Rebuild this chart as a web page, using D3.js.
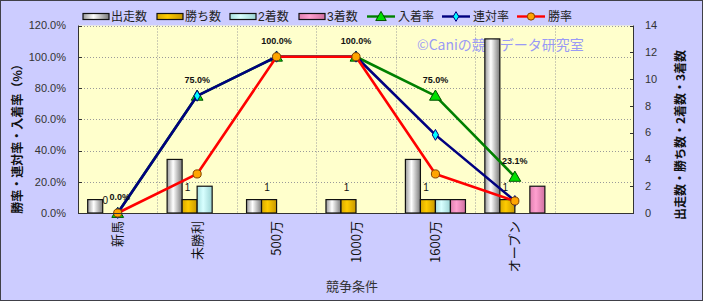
<!DOCTYPE html>
<html><head><meta charset="utf-8">
<script src="https://cdn.jsdelivr.net/npm/d3@7"></script>
<style>body{margin:0;background:#fff}svg{display:block}text{font-family:"Liberation Sans","Noto Sans CJK JP",sans-serif}</style>
</head><body>
<svg id="c" width="703" height="301"></svg>
<script>
// ---- data ----
const categories = ["新馬", "未勝利", "500万", "1000万", "1600万", "オープン"];
const starts  = [1, 4, 1, 1, 4, 13];   // 出走数
const wins    = [0, 1, 1, 1, 1, 1];    // 勝ち数
const seconds = [0, 2, 0, 0, 1, 0];    // 2着数
const thirds  = [0, 0, 0, 0, 1, 2];    // 3着数
const placeRate = [0, 75, 100, 100, 75, 23.1]; // 入着率
const quinellaRate = [0, 75, 100, 100, 50, 7.7]; // 連対率
const winRate = [0, 25, 100, 100, 25, 7.7];   // 勝率
const leftTicks = [0, 20, 40, 60, 80, 100, 120];
const rightTicks = [0, 2, 4, 6, 8, 10, 12, 14];

const barSeries = [
  {key: "出走数", values: starts, c: ["#9a9a9a", "#ffffff", "#7a7a7a"]},
  {key: "勝ち数", values: wins, c: ["#d8a800", "#ffcc00", "#c89800"]},
  {key: "2着数", values: seconds, c: ["#a8e0e0", "#d8ffff", "#9cd4d4"]},
  {key: "3着数", values: thirds, c: ["#e080b0", "#ffa0d0", "#d070a0"]}
];
const lineSeries = [
  {key: "入着率", values: placeRate, color: "#008000", marker: "tri", fill: "#00e000", stroke: "#005000"},
  {key: "連対率", values: quinellaRate, color: "#000080", marker: "dia", fill: "#00ffff", stroke: "#000080"},
  {key: "勝率", values: winRate, color: "#ff0000", marker: "cir", fill: "#ffa500", stroke: "#804000"}
];

const svg = d3.select("#c");
const W = 703, H = 301;
const L = 78, R = 634, T = 25.5, B = 213;

svg.append("rect").attr("x", 0.5).attr("y", 0.5).attr("width", W - 1).attr("height", H - 1)
  .attr("fill", "#ccccff").attr("stroke", "#404048");

const defs = svg.append("defs");
barSeries.forEach((s, i) => {
  const g = defs.append("linearGradient").attr("id", "g" + i).attr("x1", 0).attr("x2", 1).attr("y1", 0).attr("y2", 0);
  g.append("stop").attr("offset", "0%").attr("stop-color", s.c[0]);
  g.append("stop").attr("offset", "40%").attr("stop-color", s.c[1]);
  g.append("stop").attr("offset", "100%").attr("stop-color", s.c[2]);
});

const slots = categories.concat([""]);
const x = d3.scaleBand().domain(d3.range(slots.length)).range([L, R]).padding(0);
const bw = x.bandwidth();
const xi = d3.scaleBand().domain(barSeries.map(s => s.key)).range([bw * 0.122, bw * 0.878]).padding(0);
const yL = d3.scaleLinear().domain([0, 120]).range([B, T]);
const yR = d3.scaleLinear().domain([0, 14]).range([B, T]);

// plot background
svg.append("rect").attr("x", L).attr("y", T).attr("width", R - L).attr("height", B - T).attr("fill", "#ffffcc");

// gridlines
svg.append("g").selectAll("line").data(leftTicks.filter(d => d > 0)).join("line")
  .attr("x1", L).attr("x2", R).attr("y1", d => Math.round(yL(d)) + 0.5).attr("y2", d => Math.round(yL(d)) + 0.5)
  .attr("stroke", "#9a9a9a").attr("stroke-dasharray", "1,2");
svg.append("g").selectAll("line").data(d3.range(1, slots.length)).join("line")
  .attr("x1", d => Math.round(x(d)) + 0.5).attr("x2", d => Math.round(x(d)) + 0.5).attr("y1", T).attr("y2", B)
  .attr("stroke", "#9a9a9a").attr("stroke-dasharray", "1,2");

// watermark
svg.append("text").attr("x", 417).attr("y", 50).attr("font-size", 14).attr("fill", "#9a9af5")
  .style("font-family", "'Noto Sans CJK JP',sans-serif").text("©Caniの競馬データ研究室");

// bars
barSeries.forEach((s, si) => {
  svg.append("g").selectAll("rect").data(s.values.map((v, i) => ({v, i}))).join("rect")
    .filter(d => d.v > 0)
    .attr("x", d => x(d.i) + xi(s.key)).attr("width", xi.bandwidth())
    .attr("y", d => yR(d.v)).attr("height", d => B - yR(d.v))
    .attr("fill", `url(#g${si})`).attr("stroke", "#111").attr("stroke-width", 1.2);
});

// wins labels
svg.append("g").selectAll("text").data(wins.map((v, i) => ({v, i}))).join("text")
  .attr("x", d => x(d.i) + xi("勝ち数") + xi.bandwidth() / 2 - (d.v === 0 ? 5 : 2))
  .attr("y", d => yR(d.v) - 9).attr("text-anchor", "middle")
  .attr("font-size", 10).attr("fill", "#111").text(d => d.v);

// lines
const sym = {tri: d3.symbolTriangle, dia: d3.symbolDiamond, cir: d3.symbolCircle};
const size = {tri: 60, dia: 34, cir: 52};
lineSeries.forEach(s => {
  const pts = s.values.map((v, i) => [x(i) + bw / 2, yL(v)]);
  svg.append("path").attr("d", d3.line()(pts)).attr("fill", "none")
    .attr("stroke", s.color).attr("stroke-width", 2.6).attr("stroke-linejoin", "round");
  svg.append("g").selectAll("path").data(pts).join("path")
    .attr("transform", d => `translate(${d[0]},${d[1] + (s.marker === "tri" ? 1 : 0)})`)
    .attr("d", d3.symbol(sym[s.marker], size[s.marker])())
    .attr("fill", s.fill).attr("stroke", s.stroke).attr("stroke-width", 1);
});

// place rate labels
svg.append("g").selectAll("text").data(placeRate.map((v, i) => ({v, i}))).join("text")
  .attr("x", d => x(d.i) + bw / 2 + (d.v === 0 ? 2 : 0)).attr("y", d => yL(d.v) - 13).attr("text-anchor", "middle")
  .attr("font-size", 9).attr("font-weight", "bold").attr("fill", "#111")
  .text(d => d.v.toFixed(1) + "%");

// axes lines
svg.append("line").attr("x1", L + 0.5).attr("x2", L + 0.5).attr("y1", T).attr("y2", B).attr("stroke", "#333");
svg.append("line").attr("x1", R - 0.5).attr("x2", R - 0.5).attr("y1", T).attr("y2", B).attr("stroke", "#333");
svg.append("line").attr("x1", L).attr("x2", R).attr("y1", B + 0.5).attr("y2", B + 0.5).attr("stroke", "#333");

// left axis
const lg = svg.append("g");
lg.selectAll("line").data(leftTicks).join("line")
  .attr("x1", L).attr("x2", L + 4).attr("y1", d => Math.round(yL(d)) + 0.5).attr("y2", d => Math.round(yL(d)) + 0.5).attr("stroke", "#333");
lg.selectAll("text").data(leftTicks).join("text")
  .attr("x", 66).attr("y", d => yL(d)).attr("dy", "0.35em").attr("text-anchor", "end")
  .attr("font-size", 11).attr("fill", "#333").text(d => d.toFixed(1) + "%");

// right axis
const rg = svg.append("g");
rg.selectAll("line").data(rightTicks).join("line")
  .attr("x1", R - 4).attr("x2", R).attr("y1", d => Math.round(yR(d)) + 0.5).attr("y2", d => Math.round(yR(d)) + 0.5).attr("stroke", "#333");
rg.selectAll("text").data(rightTicks).join("text")
  .attr("x", 645).attr("y", d => yR(d)).attr("dy", "0.35em").attr("text-anchor", "start")
  .attr("font-size", 11).attr("fill", "#333").text(d => d);

// x labels
svg.append("g").selectAll("text").data(categories).join("text")
  .attr("transform", (d, i) => `translate(${x(i) + bw / 2 + 4.5},221) rotate(-90)`)
  .attr("text-anchor", "end").attr("font-size", 13).attr("fill", "#111")
  .style("font-family", "'Noto Sans CJK JP',sans-serif").text(d => d);

// axis titles
svg.append("text").attr("x", 352).attr("y", 291).attr("text-anchor", "middle")
  .attr("font-size", 13).attr("fill", "#333").style("font-family", "'Noto Sans CJK JP',sans-serif").text("競争条件");
svg.append("text").attr("transform", "translate(22,136) rotate(-90)").attr("text-anchor", "middle")
  .attr("font-size", 12).attr("font-weight", "bold").attr("fill", "#111")
  .style("font-family", "'Noto Sans CJK JP',sans-serif").text("勝率・連対率・入着率（%）");
svg.append("text").attr("transform", "translate(685,135) rotate(-90)").attr("text-anchor", "middle")
  .attr("font-size", 12).attr("font-weight", "bold").attr("fill", "#111")
  .style("font-family", "'Noto Sans CJK JP',sans-serif").text("出走数・勝ち数・2着数・3着数");

// legend
const leg = svg.append("g").style("font-family", "'Noto Sans CJK JP',sans-serif");
const barLegX = [83, 157, 230, 299];
barSeries.forEach((s, i) => {
  leg.append("rect").attr("x", barLegX[i]).attr("y", 13.5).attr("width", 26).attr("height", 6)
    .attr("fill", `url(#g${i})`).attr("stroke", "#111").attr("stroke-width", 1.2);
  leg.append("text").attr("x", barLegX[i] + 28).attr("y", 21).attr("font-size", 12).attr("fill", "#222").text(s.key);
});
const lineLegX = [367, 442, 517];
lineSeries.forEach((s, i) => {
  leg.append("line").attr("x1", lineLegX[i]).attr("x2", lineLegX[i] + 28).attr("y1", 16.5).attr("y2", 16.5)
    .attr("stroke", s.color).attr("stroke-width", 2.4);
  leg.append("path").attr("transform", `translate(${lineLegX[i] + 14},${16.5 + (s.marker === "tri" ? 1 : 0)})`)
    .attr("d", d3.symbol(sym[s.marker], size[s.marker] * 0.8)())
    .attr("fill", s.fill).attr("stroke", s.stroke);
  leg.append("text").attr("x", lineLegX[i] + 31).attr("y", 21).attr("font-size", 12).attr("fill", "#222").text(s.key);
});
</script>
</body></html>
